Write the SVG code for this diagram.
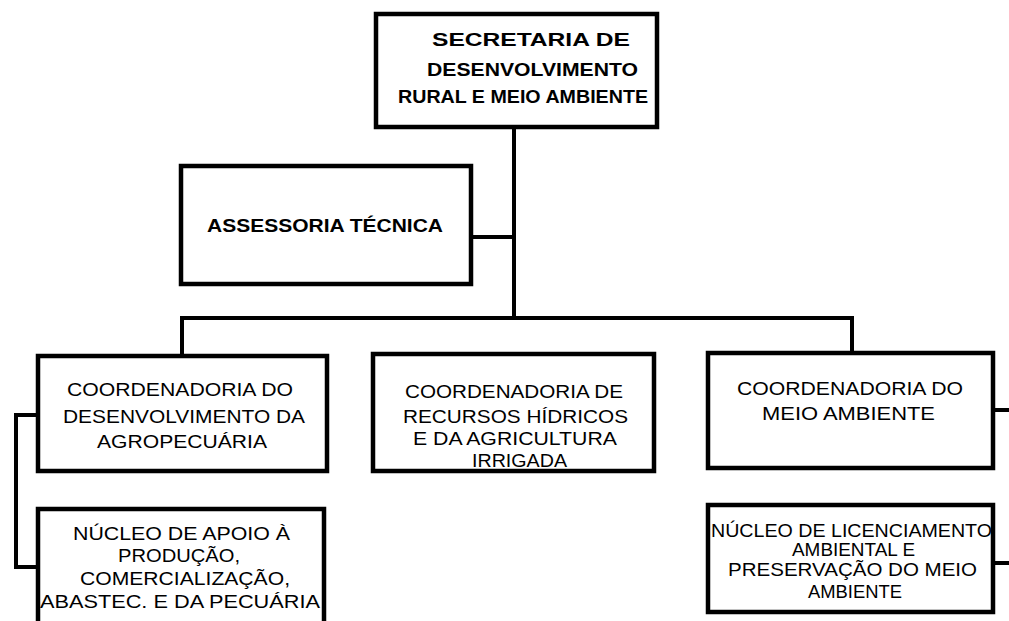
<svg xmlns="http://www.w3.org/2000/svg" width="1009" height="621" viewBox="0 0 1009 621">
<style>
.box{fill:#fff;stroke:#000;stroke-width:4.5}
.con{fill:none;stroke:#000;stroke-width:4;stroke-linecap:square}
text{font-family:"Liberation Sans",Arial,sans-serif;fill:#000}
.b{font-weight:bold;font-size:19px}
.r{font-size:18px}
</style>
<rect width="1009" height="621" fill="#fff"/>
<g id="connectors">
<path class="con" d="M514 128 V318"/>
<path class="con" d="M472 237 H514"/>
<path class="con" d="M182 318 H852"/>
<path class="con" d="M182 318 V355"/>
<path class="con" d="M852 318 V352"/>
<path class="con" d="M37 415 H16 V567 H37"/>
<path class="con" d="M994 410 H1009"/>
<path class="con" d="M994 563 H1009"/>
</g>
<g id="secretaria">
<rect class="box" x="376" y="14" width="281" height="113"/>
<text class="b" x="432" y="46" textLength="198" lengthAdjust="spacingAndGlyphs">SECRETARIA DE</text>
<text class="b" x="427" y="76" textLength="211" lengthAdjust="spacingAndGlyphs">DESENVOLVIMENTO</text>
<text class="b" x="398" y="103" textLength="250" lengthAdjust="spacingAndGlyphs">RURAL E MEIO AMBIENTE</text>
</g>
<g id="assessoria">
<rect class="box" x="181" y="166" width="290" height="118"/>
<text class="b" x="207" y="232" textLength="236" lengthAdjust="spacingAndGlyphs">ASSESSORIA TÉCNICA</text>
</g>
<g id="coord-agro">
<rect class="box" x="38" y="356" width="289" height="115"/>
<text class="r" x="67" y="396" textLength="226" lengthAdjust="spacingAndGlyphs">COORDENADORIA DO</text>
<text class="r" x="63" y="423" textLength="242" lengthAdjust="spacingAndGlyphs">DESENVOLVIMENTO DA</text>
<text class="r" x="97" y="448" textLength="170" lengthAdjust="spacingAndGlyphs">AGROPECUÁRIA</text>
</g>
<g id="coord-recursos">
<rect class="box" x="373" y="354" width="281" height="117"/>
<text class="r" x="405" y="398" textLength="218" lengthAdjust="spacingAndGlyphs">COORDENADORIA DE</text>
<text class="r" x="403" y="423" textLength="225" lengthAdjust="spacingAndGlyphs">RECURSOS HÍDRICOS</text>
<text class="r" x="413" y="445" textLength="204" lengthAdjust="spacingAndGlyphs">E DA AGRICULTURA</text>
<text class="r" x="472" y="467" textLength="95" lengthAdjust="spacingAndGlyphs">IRRIGADA</text>
</g>
<g id="coord-meio">
<rect class="box" x="708" y="353" width="285" height="115"/>
<text class="r" x="737" y="395" textLength="226" lengthAdjust="spacingAndGlyphs">COORDENADORIA DO</text>
<text class="r" x="762" y="420" textLength="173" lengthAdjust="spacingAndGlyphs">MEIO AMBIENTE</text>
</g>
<g id="nucleo-apoio">
<rect class="box" x="38" y="509" width="286" height="130"/>
<text class="r" x="73" y="540" textLength="217" lengthAdjust="spacingAndGlyphs">NÚCLEO DE APOIO À</text>
<text class="r" x="118" y="562" textLength="122" lengthAdjust="spacingAndGlyphs">PRODUÇÃO,</text>
<text class="r" x="80" y="585" textLength="210" lengthAdjust="spacingAndGlyphs">COMERCIALIZAÇÃO,</text>
<text class="r" x="40" y="608" textLength="280" lengthAdjust="spacingAndGlyphs">ABASTEC. E DA PECUÁRIA</text>
</g>
<g id="nucleo-licenciamento">
<rect class="box" x="708" y="505" width="285" height="107"/>
<text class="r" x="711" y="537" textLength="281" lengthAdjust="spacingAndGlyphs">NÚCLEO DE LICENCIAMENTO</text>
<text class="r" x="792" y="556" textLength="123" lengthAdjust="spacingAndGlyphs">AMBIENTAL E</text>
<text class="r" x="728" y="576" textLength="249" lengthAdjust="spacingAndGlyphs">PRESERVAÇÃO DO MEIO</text>
<text class="r" x="808" y="598" textLength="94" lengthAdjust="spacingAndGlyphs">AMBIENTE</text>
</g>
</svg>
